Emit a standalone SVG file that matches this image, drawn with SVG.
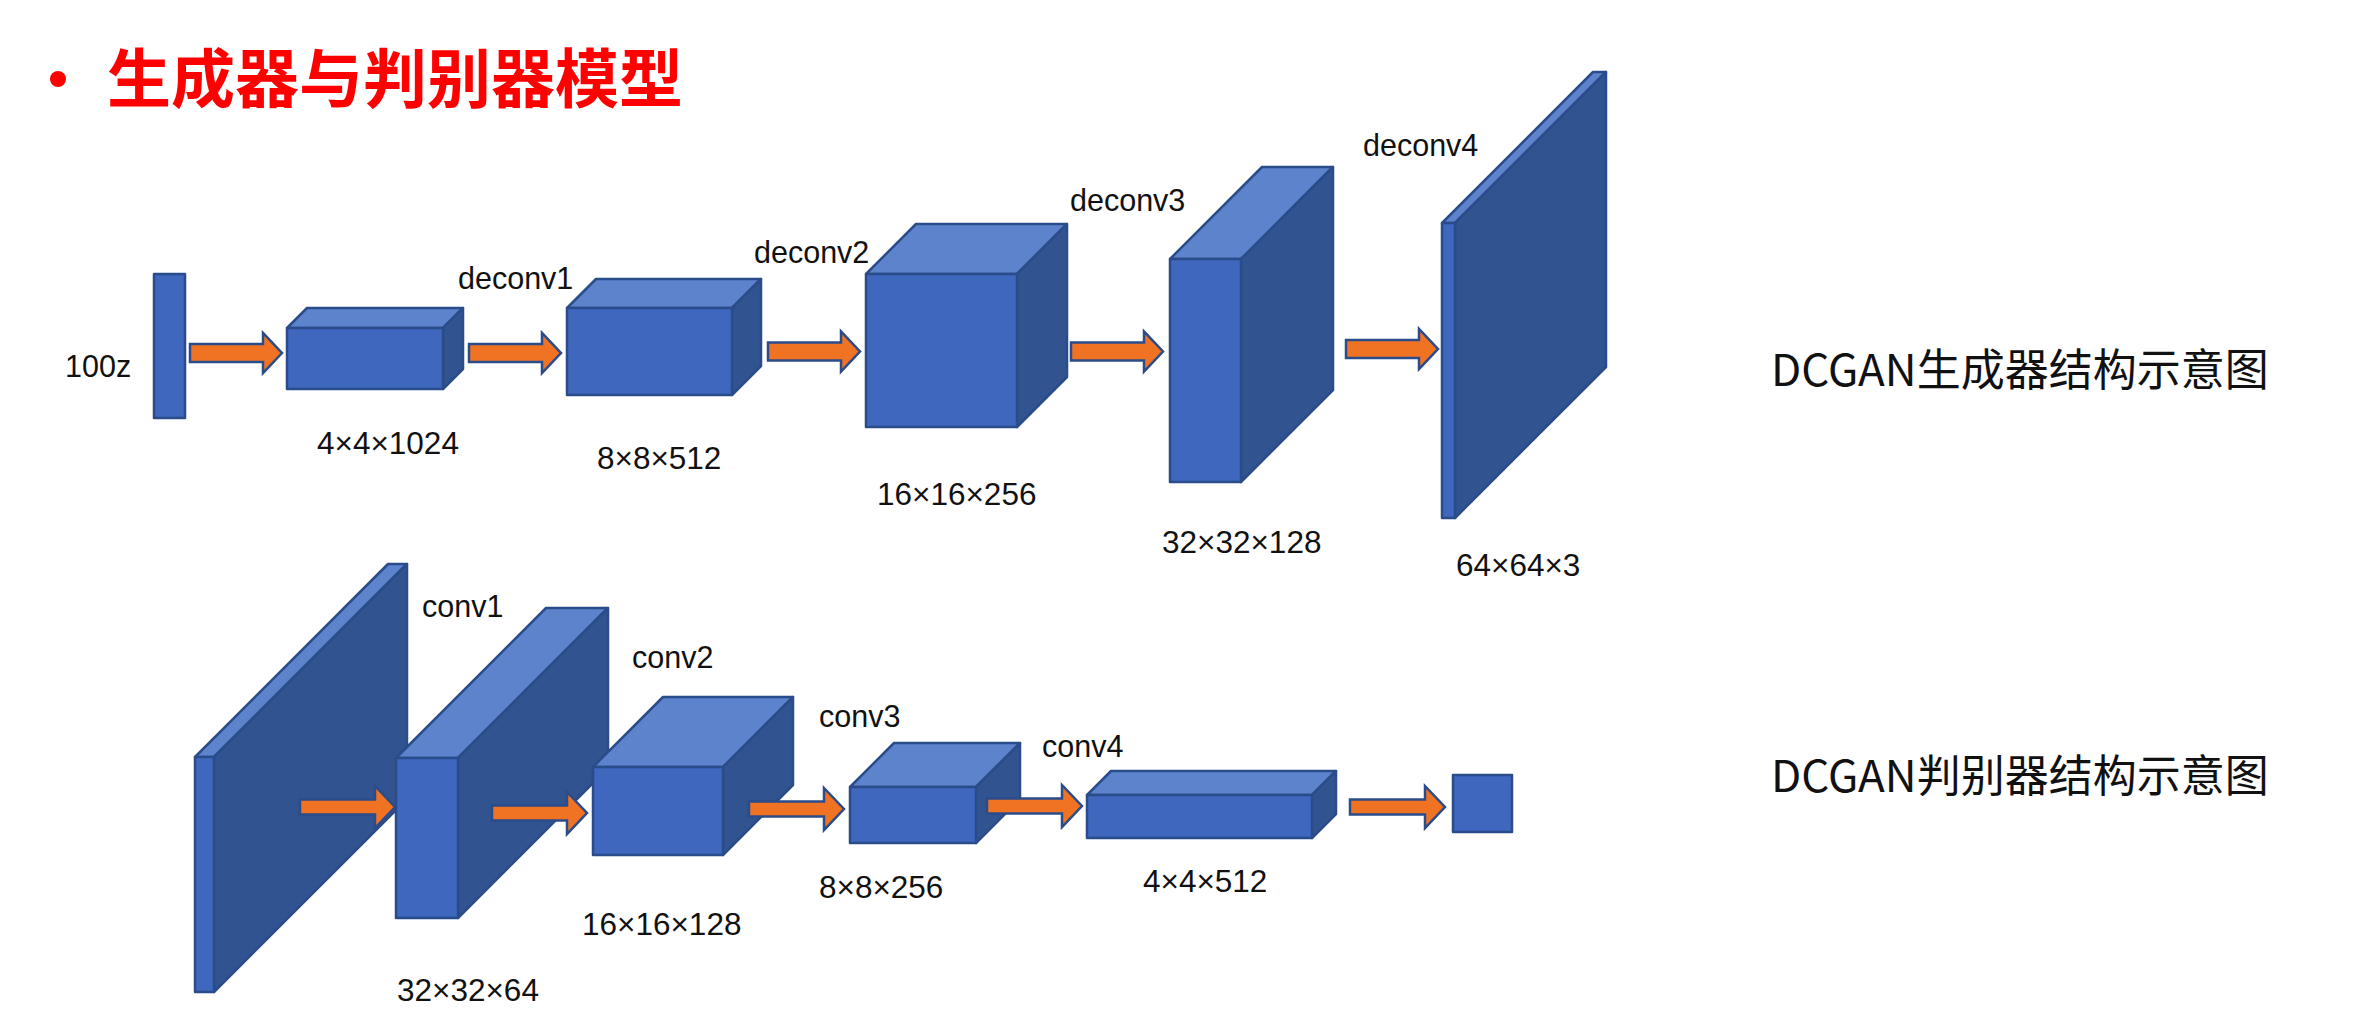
<svg xmlns="http://www.w3.org/2000/svg" width="2361" height="1021" viewBox="0 0 2361 1021">
<defs>
<style>
.fr{fill:#3E67BD;stroke:#2B4C8A;stroke-width:2.5;stroke-linejoin:round}
.tp{fill:#5C83CB;stroke:#2B4C8A;stroke-width:2.5;stroke-linejoin:round}
.sd{fill:#31538F;stroke:#2B4C8A;stroke-width:2.5;stroke-linejoin:round}
.arr{fill:#F07324;stroke:#2B4C8A;stroke-width:2.5;stroke-linejoin:miter}
.lb{font-family:"Liberation Sans",Arial,sans-serif;font-size:30.5px;fill:#111}
.num{font-family:"Liberation Sans",Arial,sans-serif;font-size:31.5px;fill:#111}
.cap{font-family:"Noto Sans CJK SC","Noto Sans",sans-serif;font-size:44px;fill:#111}
.title{font-family:"Noto Sans CJK SC",sans-serif;font-size:64px;font-weight:bold;fill:#FF0000}
</style>
<path id="arrTop" d="M0,-9 H73 V-20 L92,0 L73,20 V9 H0 Z"/>
<path id="arrBot" d="M0,-7.5 H75 V-21 L95,0 L75,21 V7.5 H0 Z"/>
</defs>
<rect width="2361" height="1021" fill="#FFFFFF"/>

<g id="title">
<circle cx="58" cy="79" r="8" fill="#FF0000"/>
<text class="title" x="107" y="102">生成器与判别器模型</text>
</g>

<!-- Generator -->
<g id="g-input">
<rect class="fr" x="154" y="274" width="31" height="144"/>
<text class="lb" x="65" y="377">100z</text>
</g>
<g id="g-layer1">
<polygon class="tp" points="287,328 307,308 463,308 443,328"/>
<polygon class="sd" points="443,328 463,308 463,369 443,389"/>
<rect class="fr" x="287" y="328" width="156" height="61"/>
<text class="num" x="317" y="454">4×4×1024</text>
</g>
<g id="g-layer2">
<polygon class="tp" points="567,308 596,279 761,279 732,308"/>
<polygon class="sd" points="732,308 761,279 761,366 732,395"/>
<rect class="fr" x="567" y="308" width="165" height="87"/>
<text class="num" x="597" y="469">8×8×512</text>
</g>
<g id="g-layer3">
<polygon class="tp" points="866,274 916,224 1067,224 1017,274"/>
<polygon class="sd" points="1017,274 1067,224 1067,377 1017,427"/>
<rect class="fr" x="866" y="274" width="151" height="153"/>
<text class="num" x="877" y="505">16×16×256</text>
</g>
<g id="g-layer4">
<polygon class="tp" points="1170,259 1262,167 1333,167 1241,259"/>
<polygon class="sd" points="1241,259 1333,167 1333,390 1241,482"/>
<rect class="fr" x="1170" y="259" width="71" height="223"/>
<text class="num" x="1162" y="553">32×32×128</text>
</g>
<g id="g-output">
<polygon class="tp" points="1442,223 1593,72 1606,72 1455,223"/>
<polygon class="sd" points="1455,223 1606,72 1606,367 1455,518"/>
<rect class="fr" x="1442" y="223" width="13" height="295"/>
<text class="num" x="1456" y="576">64×64×3</text>
</g>

<!-- Discriminator -->
<g id="d-input">
<polygon class="tp" points="195,757 388,564 407,564 214,757"/>
<polygon class="sd" points="214,757 407,564 407,799 214,992"/>
<rect class="fr" x="195" y="757" width="19" height="235"/>
</g>
<g id="d-layer1">
<polygon class="tp" points="396,758 546,608 608,608 458,758"/>
<polygon class="sd" points="458,758 608,608 608,768 458,918"/>
<rect class="fr" x="396" y="758" width="62" height="160"/>
<text class="num" x="397" y="1001">32×32×64</text>
</g>
<g id="d-layer2">
<polygon class="tp" points="593,767 663,697 793,697 723,767"/>
<polygon class="sd" points="723,767 793,697 793,785 723,855"/>
<rect class="fr" x="593" y="767" width="130" height="88"/>
<text class="num" x="582" y="935">16×16×128</text>
</g>
<g id="d-layer3">
<polygon class="tp" points="850,787 894,743 1020,743 976,787"/>
<polygon class="sd" points="976,787 1020,743 1020,799 976,843"/>
<rect class="fr" x="850" y="787" width="126" height="56"/>
<text class="num" x="819" y="898">8×8×256</text>
</g>
<g id="d-layer4">
<polygon class="tp" points="1087,795 1111,771 1336,771 1312,795"/>
<polygon class="sd" points="1312,795 1336,771 1336,814 1312,838"/>
<rect class="fr" x="1087" y="795" width="225" height="43"/>
<text class="num" x="1143" y="892">4×4×512</text>
</g>
<g id="d-output">
<rect class="fr" x="1453" y="775" width="59" height="57"/>
</g>

<g id="connectors">
<use href="#arrTop" class="arr" x="190" y="353"/>
<use href="#arrTop" class="arr" x="469" y="353"/>
<use href="#arrTop" class="arr" x="768" y="351.5"/>
<use href="#arrTop" class="arr" x="1071" y="351.5"/>
<use href="#arrTop" class="arr" x="1346" y="349"/>
<use href="#arrBot" class="arr" x="300" y="807"/>
<use href="#arrBot" class="arr" x="492" y="813"/>
<use href="#arrBot" class="arr" x="749" y="809"/>
<use href="#arrBot" class="arr" x="987" y="806"/>
<use href="#arrBot" class="arr" x="1350" y="807"/>
<text class="lb" x="458" y="289">deconv1</text>
<text class="lb" x="754" y="263">deconv2</text>
<text class="lb" x="1070" y="211">deconv3</text>
<text class="lb" x="1363" y="156">deconv4</text>
<text class="lb" x="422" y="617">conv1</text>
<text class="lb" x="632" y="668">conv2</text>
<text class="lb" x="819" y="727">conv3</text>
<text class="lb" x="1042" y="757">conv4</text>
</g>

<g id="captions">
<text class="cap" x="1771" y="386">DCGAN生成器结构示意图</text>
<text class="cap" x="1771" y="792">DCGAN判别器结构示意图</text>
</g>
</svg>
